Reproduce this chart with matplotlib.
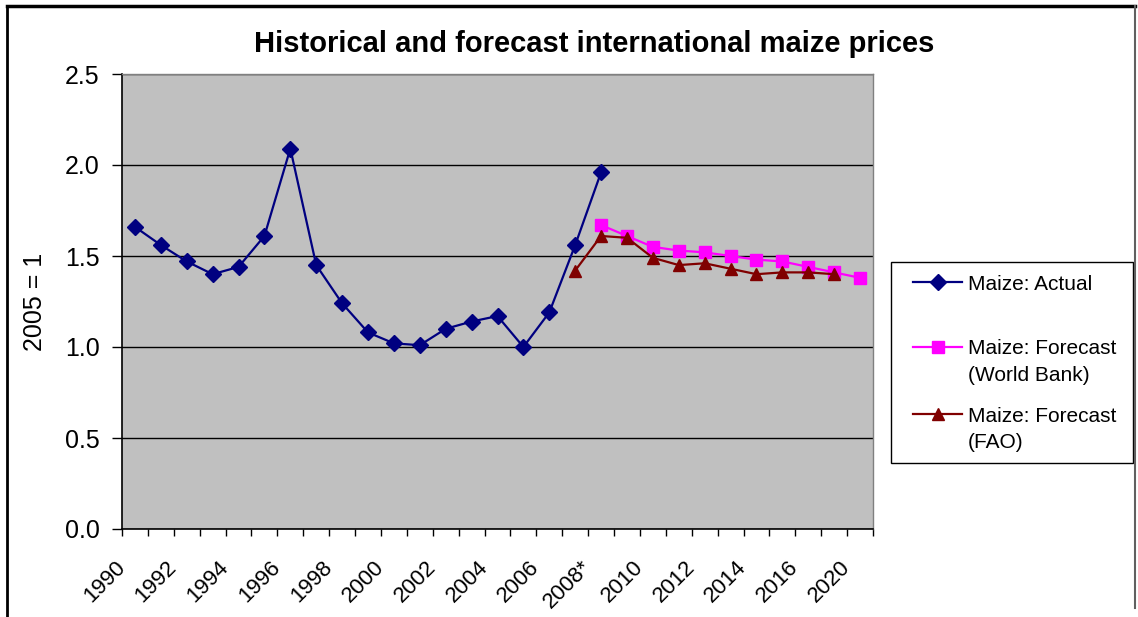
import matplotlib
matplotlib.use("Agg")
import matplotlib.pyplot as plt
from matplotlib.lines import Line2D
from matplotlib.patches import Rectangle
from matplotlib.transforms import ScaledTranslation
import numpy as np

plt.rcParams['font.family'] = ['Liberation Sans', 'DejaVu Sans']

# Category axis (29 categories), labels shown on every other category
categories = ['1990', '1991', '1992', '1993', '1994', '1995', '1996', '1997',
              '1998', '1999', '2000', '2001', '2002', '2003', '2004', '2005',
              '2006', '2007', '2008*', '2009', '2010', '2011', '2012', '2013',
              '2014', '2015', '2016', '2017', '2020']
shown_labels = ['1990', '1992', '1994', '1996', '1998', '2000', '2002', '2004',
                '2006', '2008*', '2010', '2012', '2014', '2016', '2020']

# Maize: Actual (1990 .. 2008*)
actual = [1.66, 1.56, 1.47, 1.40, 1.44, 1.61, 2.09, 1.45, 1.24, 1.08,
          1.02, 1.01, 1.10, 1.14, 1.17, 1.00, 1.19, 1.56, 1.96]
# Maize: Forecast (World Bank) (2008* .. last category)
world_bank = [1.67, 1.61, 1.55, 1.53, 1.52, 1.50, 1.48, 1.47, 1.44, 1.41, 1.38]
# Maize: Forecast (FAO) (2007 .. second-to-last category)
fao = [1.42, 1.61, 1.60, 1.49, 1.45, 1.46, 1.43, 1.40, 1.41, 1.41, 1.40]

series_labels = [['Maize: Actual'],
                 ['Maize: Forecast', '(World Bank)'],
                 ['Maize: Forecast', '(FAO)']]

actual_start = 0
wb_start = 18
fao_start = 17

W, H = 1138, 617
fig = plt.figure(figsize=(W / 100, H / 100), dpi=100)
fig.patch.set_facecolor('white')

L, R, T, B = 122, 873, 74, 529
ax = fig.add_axes([L / W, 1 - B / H, (R - L) / W, (B - T) / H])
ax.set_facecolor('#C0C0C0')

x_act = np.arange(actual_start, actual_start + len(actual))
x_wb = np.arange(wb_start, wb_start + len(world_bank))
x_fao = np.arange(fao_start, fao_start + len(fao))

l1, = ax.plot(x_act, actual, color='#000080', lw=1.6, marker='D', ms=8.5,
              mfc='#000080', mec='#000080', zorder=4)
l2, = ax.plot(x_wb, world_bank, color='#FF00FF', lw=1.6, marker='s', ms=8,
              mfc='#FF00FF', mec='#FF00FF', zorder=3)
l3, = ax.plot(x_fao, fao, color='#800000', lw=1.6, marker='^', ms=9,
              mfc='#800000', mec='#800000', zorder=3)

ax.set_xlim(-0.5, len(categories) - 0.5)
ax.set_ylim(0, 2.5)
ax.set_yticks([0, 0.5, 1.0, 1.5, 2.0, 2.5])
ax.set_yticklabels(['0.0', '0.5', '1.0', '1.5', '2.0', '2.5'])
ax.yaxis.grid(True, color='black', lw=1.0)
ax.set_axisbelow(True)

major = np.arange(0, len(categories), 2)
ax.set_xticks(major)
ax.set_xticklabels(shown_labels, rotation=45, ha='right', va='center',
                   rotation_mode='anchor')
ax.set_xticks(np.arange(-0.5, len(categories), 1), minor=True)
ax.tick_params(axis='x', which='major', length=0, pad=25, labelsize=16)
ax.tick_params(axis='x', which='minor', length=5, width=1, direction='out')
ax.tick_params(axis='y', length=7, width=1, pad=9, labelsize=18)
offset = ScaledTranslation(-0.13, 0, fig.dpi_scale_trans)
for lab in ax.get_xticklabels():
    lab.set_transform(lab.get_transform() + offset)

for s in ['top', 'right']:
    ax.spines[s].set_color('#808080')
    ax.spines[s].set_linewidth(1.0)
for s in ['left', 'bottom']:
    ax.spines[s].set_color('black')
    ax.spines[s].set_linewidth(1.2)

ax.set_ylabel('2005 = 1', fontsize=18)
ax.yaxis.set_label_coords(-0.1, 0.5)

fig.text(594 / W, 1 - 44 / H, 'Historical and forecast international maize prices',
         ha='center', va='center', fontsize=21, fontweight='bold')

# Legend (Excel-style layout: handle aligned with first line of each label)
fig.add_artist(Rectangle((891 / W, 1 - 463 / H), (1133 - 891) / W, (463 - 262) / H,
                         transform=fig.transFigure, facecolor='white',
                         edgecolor='black', lw=1.0))
entry_y = [282, 347, 414]
for line, labels, yy in zip([l1, l2, l3], series_labels, entry_y):
    fy = 1 - yy / H
    fig.add_artist(Line2D([913 / W, 962 / W], [fy, fy], color=line.get_color(),
                          lw=line.get_linewidth()))
    fig.add_artist(Line2D([937.5 / W], [fy], marker=line.get_marker(),
                          ms=line.get_markersize(), mfc=line.get_mfc(),
                          mec=line.get_mec(), lw=0))
    for k, txt in enumerate(labels):
        fig.text(968 / W, 1 - (yy + k * 26.7) / H, txt, ha='left',
                 va='center_baseline', fontsize=15)

# outer chart border
fig.add_artist(Line2D([7 / W, 7 / W], [1 - 6 / H, 0], color='black', lw=2))
fig.add_artist(Line2D([7 / W, 1135 / W], [1 - 6 / H, 1 - 6 / H], color='black', lw=2.5))
fig.add_artist(Line2D([1135 / W, 1135 / W], [1 - 6 / H, 1 - 608 / H], color='#606060', lw=1.5))

fig.savefig('out.png', dpi=100)
